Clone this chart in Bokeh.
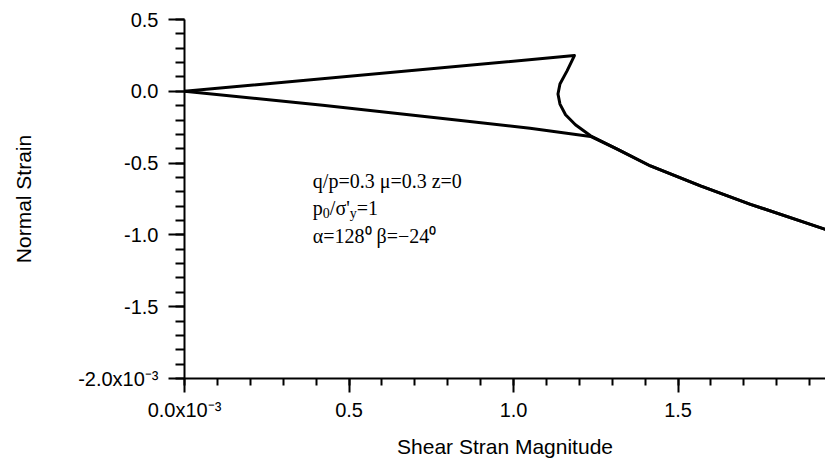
from bokeh.plotting import figure
from bokeh.models import Range1d, FixedTicker, CustomJSTickFormatter, Label
from bokeh.embed import file_html
from bokeh.resources import INLINE
import numpy as np

# ---- data (units of 1e-3) ----
upper_x = [0.0, 1.185, 1.163, 1.141, 1.135, 1.141, 1.158, 1.188, 1.234, 1.315, 1.416, 1.568, 1.720, 1.948]
upper_y = [0.0, 0.249, 0.144, 0.051, -0.019, -0.089, -0.163, -0.233, -0.310, -0.403, -0.520, -0.659, -0.787, -0.962]

lower_x = [0.0, 0.42, 0.84, 1.05, 1.234, 1.315, 1.416, 1.568, 1.720, 1.948]
lower_y = [0.0, -0.097, -0.203, -0.258, -0.314, -0.403, -0.520, -0.659, -0.787, -0.962]

x_tick_values = [0.0, 0.5, 1.0, 1.5]
x_tick_labels = ["0.0x10\u207b\u00b3", "0.5", "1.0", "1.5"]
y_tick_values = [-2.0, -1.5, -1.0, -0.5, 0.0, 0.5]
y_tick_labels = ["-2.0x10\u207b\u00b3", "-1.5", "-1.0", "-0.5", "0.0", "0.5"]

x_title = "Shear Stran Magnitude"
y_title = "Normal Strain"

ann_line1 = "q/p=0.3 \u03bc=0.3 z=0"
ann_line2 = ["p", "0", "/\u03c3'", "y", "=1"]
ann_line3 = "\u03b1=128\u2070 \u03b2=\u221224\u2070"

# ---- figure ----
p = figure(width=825, height=463, output_backend="svg", toolbar_location=None,
           x_range=Range1d(0, 1.948), y_range=Range1d(-2.0, 0.5),
           min_border_left=184, min_border_right=0, min_border_top=19, min_border_bottom=85)
p.outline_line_color = None
p.xgrid.visible = False
p.ygrid.visible = False
p.background_fill_color = "white"
p.border_fill_color = "white"

p.line(upper_x, upper_y, line_color="black", line_width=3, line_join="round")
p.line(lower_x, lower_y, line_color="black", line_width=3, line_join="round")

xminor = [round(v, 2) for v in np.arange(0.0, 1.95, 0.1)]
yminor = [round(v, 2) for v in np.arange(-2.0, 0.51, 0.1)]
p.xaxis.ticker = FixedTicker(ticks=x_tick_values, minor_ticks=xminor)
p.yaxis.ticker = FixedTicker(ticks=y_tick_values, minor_ticks=yminor)

fmt_code = """
for (let i = 0; i < vals.length; i++) { if (Math.abs(tick - vals[i]) < 1e-9) return labs[i]; }
return "";
"""
p.xaxis.formatter = CustomJSTickFormatter(args=dict(vals=x_tick_values, labs=x_tick_labels), code=fmt_code)
p.yaxis.formatter = CustomJSTickFormatter(args=dict(vals=y_tick_values, labs=y_tick_labels), code=fmt_code)

for ax in (p.xaxis[0], p.yaxis[0]):
    ax.axis_line_color = "black"
    ax.axis_line_width = 2
    ax.major_tick_line_color = "black"
    ax.major_tick_line_width = 2
    ax.minor_tick_line_color = "black"
    ax.minor_tick_line_width = 2
    ax.major_tick_in = 0
    ax.minor_tick_in = 0
    ax.major_label_text_font = "Liberation Sans"
    ax.major_label_text_font_size = "20px"
    ax.major_label_text_color = "black"
    ax.axis_label_text_font = "Liberation Sans"
    ax.axis_label_text_font_size = "21px"
    ax.axis_label_text_font_style = "normal"
    ax.axis_label_text_color = "black"

p.xaxis.major_tick_out = 14
p.xaxis.minor_tick_out = 7
p.yaxis.major_tick_out = 16
p.yaxis.minor_tick_out = 9
p.xaxis.major_label_standoff = 6
p.yaxis.major_label_standoff = 10
p.xaxis.axis_label = x_title
p.yaxis.axis_label = y_title
p.xaxis.axis_label_standoff = 11
p.yaxis.axis_label_standoff = 40

# ---- annotation ----
serif = "Liberation Serif"
fs = "20px"
x0 = 0.39
p.add_layout(Label(x=x0, y=-0.625, text=ann_line1, text_font=serif, text_font_size=fs,
                   text_color="black", text_baseline="alphabetic"))
offs = [0, 10, 17, 37, 44]
sub = [False, True, False, True, False]
for t, o, s in zip(ann_line2, offs, sub):
    p.add_layout(Label(x=x0, y=-0.815, x_offset=o, y_offset=(-5 if s else 0), text=t,
                       text_font=serif, text_font_size=("14px" if s else fs),
                       text_color="black", text_baseline="alphabetic"))
p.add_layout(Label(x=x0, y=-1.005, text=ann_line3, text_font=serif, text_font_size=fs,
                   text_color="black", text_baseline="alphabetic"))

open("out.html", "w").write(file_html(p, INLINE))
